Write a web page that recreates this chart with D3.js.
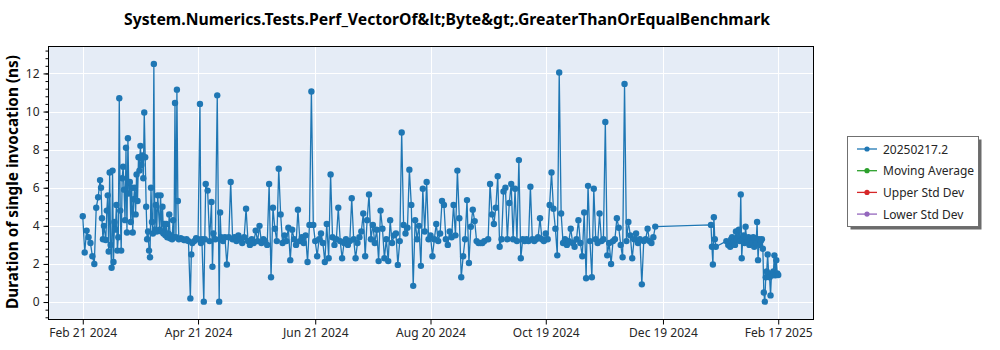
<!DOCTYPE html>
<html><head><meta charset="utf-8">
<script src="https://cdn.jsdelivr.net/npm/d3@7"></script>
<style>body{margin:0;background:#fff}svg{display:block}</style>
</head><body>
<svg id="chart" width="1000" height="350"></svg>
<script>
const chartTitle = "System.Numerics.Tests.Perf_VectorOf&lt;Byte&gt;.GreaterThanOrEqualBenchmark";
const yAxisLabel = "Duration of single invocation (ns)";
const legendLabels = ["20250217.2", "Moving Average", "Upper Std Dev", "Lower Std Dev"];

const dates = [
"2024-02-21","2024-02-22","2024-02-23","2024-02-24","2024-02-25","2024-02-26","2024-02-27","2024-02-28","2024-02-29",
"2024-03-01","2024-03-01 12","2024-03-02","2024-03-02 12","2024-03-03","2024-03-04","2024-03-04 12","2024-03-05","2024-03-05 12","2024-03-06","2024-03-06 12","2024-03-07","2024-03-07 12","2024-03-08","2024-03-08 12","2024-03-09","2024-03-09 12","2024-03-10","2024-03-10 12",
"2024-03-11","2024-03-11 12","2024-03-12","2024-03-12 12","2024-03-13","2024-03-13 12","2024-03-14","2024-03-14 12","2024-03-15","2024-03-15 12","2024-03-16","2024-03-16 12","2024-03-17","2024-03-17 12","2024-03-18","2024-03-18 12","2024-03-19","2024-03-19 12","2024-03-20","2024-03-20 12",
"2024-03-21","2024-03-21 12","2024-03-22","2024-03-22 12","2024-03-23","2024-03-23 12","2024-03-24","2024-03-24 12","2024-03-25","2024-03-25 12","2024-03-26","2024-03-26 12","2024-03-27","2024-03-27 12","2024-03-28","2024-03-28 12","2024-03-29","2024-03-29 12","2024-03-30","2024-03-30 12","2024-03-31",
"2024-04-01","2024-04-01 12","2024-04-02","2024-04-02 12","2024-04-03","2024-04-03 12","2024-04-04","2024-04-04 12","2024-04-05","2024-04-05 12","2024-04-06","2024-04-06 12","2024-04-07","2024-04-07 12","2024-04-08","2024-04-08 12","2024-04-09","2024-04-09 12","2024-04-10","2024-04-10 12",
"2024-04-11","2024-04-12","2024-04-13","2024-04-14","2024-04-15","2024-04-16","2024-04-17","2024-04-17 12","2024-04-18","2024-04-19","2024-04-20","2024-04-21","2024-04-22","2024-04-22 12","2024-04-23","2024-04-24","2024-04-24 12","2024-04-25","2024-04-26","2024-04-27","2024-04-28","2024-04-28 12","2024-04-29","2024-04-30",
"2024-05-01","2024-05-02","2024-05-02 12","2024-05-03","2024-05-04","2024-05-05","2024-05-06","2024-05-07","2024-05-08","2024-05-09","2024-05-10","2024-05-11","2024-05-12","2024-05-13","2024-05-14","2024-05-15","2024-05-16","2024-05-17","2024-05-18","2024-05-19","2024-05-20","2024-05-21","2024-05-22","2024-05-23","2024-05-24","2024-05-25","2024-05-26","2024-05-27","2024-05-28","2024-05-29","2024-05-30","2024-05-31",
"2024-06-01","2024-06-02","2024-06-03","2024-06-04","2024-06-05","2024-06-06","2024-06-07","2024-06-08","2024-06-09","2024-06-10","2024-06-11","2024-06-12","2024-06-13","2024-06-14","2024-06-15","2024-06-16","2024-06-17","2024-06-18","2024-06-19","2024-06-20","2024-06-21","2024-06-22","2024-06-23","2024-06-24","2024-06-25","2024-06-26","2024-06-27","2024-06-28","2024-06-29","2024-06-30",
"2024-07-01","2024-07-02","2024-07-03","2024-07-04","2024-07-05","2024-07-06","2024-07-07","2024-07-08","2024-07-09","2024-07-10","2024-07-11","2024-07-12","2024-07-13","2024-07-14","2024-07-15","2024-07-16","2024-07-17","2024-07-18","2024-07-19","2024-07-20","2024-07-21","2024-07-22","2024-07-23","2024-07-24","2024-07-25","2024-07-26","2024-07-27","2024-07-28","2024-07-29","2024-07-30","2024-07-31",
"2024-08-01","2024-08-02","2024-08-03","2024-08-04","2024-08-05","2024-08-06","2024-08-07","2024-08-08","2024-08-09","2024-08-10","2024-08-11","2024-08-12","2024-08-13","2024-08-14","2024-08-15","2024-08-16","2024-08-17","2024-08-18","2024-08-19","2024-08-20","2024-08-21","2024-08-22","2024-08-23","2024-08-24","2024-08-25","2024-08-26","2024-08-27","2024-08-28","2024-08-29","2024-08-30","2024-08-31",
"2024-09-01","2024-09-02","2024-09-03","2024-09-04","2024-09-05","2024-09-06","2024-09-07","2024-09-08","2024-09-09","2024-09-10","2024-09-11","2024-09-12","2024-09-13","2024-09-14","2024-09-15","2024-09-16","2024-09-17",
"2024-09-19","2024-09-20","2024-09-21","2024-09-22","2024-09-23","2024-09-24","2024-09-25","2024-09-26","2024-09-27","2024-09-28","2024-09-29","2024-09-30",
"2024-10-01","2024-10-02","2024-10-03","2024-10-04","2024-10-05","2024-10-06","2024-10-07","2024-10-08","2024-10-09","2024-10-10","2024-10-11","2024-10-12","2024-10-13","2024-10-14","2024-10-15","2024-10-16","2024-10-17","2024-10-18","2024-10-19","2024-10-20","2024-10-21","2024-10-22","2024-10-23","2024-10-24","2024-10-25","2024-10-26","2024-10-27","2024-10-28","2024-10-29","2024-10-30","2024-10-31",
"2024-11-01","2024-11-02","2024-11-03","2024-11-04","2024-11-05","2024-11-06","2024-11-07","2024-11-08","2024-11-09","2024-11-10","2024-11-11","2024-11-12","2024-11-13","2024-11-14","2024-11-15","2024-11-16","2024-11-17","2024-11-18","2024-11-19","2024-11-20","2024-11-21","2024-11-22","2024-11-23","2024-11-24","2024-11-25","2024-11-26","2024-11-27","2024-11-28","2024-11-29","2024-11-30",
"2024-12-01","2024-12-02","2024-12-03","2024-12-04","2024-12-05","2024-12-06","2024-12-07","2024-12-08","2024-12-09","2024-12-10","2024-12-11","2024-12-12","2024-12-13","2024-12-14","2024-12-15",
"2025-01-13","2025-01-13 12","2025-01-14","2025-01-14 12","2025-01-15","2025-01-15 12",
"2025-01-21","2025-01-22","2025-01-23","2025-01-23 12","2025-01-24","2025-01-24 12","2025-01-25","2025-01-25 12","2025-01-26","2025-01-26 12","2025-01-27","2025-01-27 12","2025-01-28","2025-01-28 12","2025-01-29","2025-01-29 12","2025-01-30","2025-01-30 12","2025-01-31","2025-01-31 12",
"2025-02-01","2025-02-01 12","2025-02-02","2025-02-02 12","2025-02-03","2025-02-03 12","2025-02-04","2025-02-04 12","2025-02-05","2025-02-05 12","2025-02-06","2025-02-06 12","2025-02-07","2025-02-07 12","2025-02-08","2025-02-08 12",
"2025-02-09","2025-02-09 12","2025-02-10","2025-02-10 12","2025-02-11","2025-02-11 12","2025-02-12","2025-02-12 12","2025-02-13","2025-02-13 12","2025-02-14","2025-02-14 12","2025-02-15","2025-02-15 12","2025-02-16","2025-02-16 12","2025-02-17"
];

const values = [
4.5,2.6,3.75,3.4,3.1,2.4,2.0,4.95,5.5,
6.4,6.0,4.4,3.3,4.0,3.26,4.8,5.6,2.65,6.8,3.0,1.8,6.9,2.1,4.2,3.8,5.1,2.7,3.4,
10.7,4.8,2.7,6.5,7.1,5.9,4.3,8.1,3.65,8.6,5.7,6.3,4.2,6.0,3.65,5.4,6.0,4.6,6.7,5.3,
7.6,6.9,8.2,7.2,7.7,6.5,9.95,7.6,5.0,3.3,3.7,2.7,2.35,6.0,4.2,3.6,12.5,3.8,5.1,3.7,5.6,
3.8,5.6,3.7,5.0,3.6,4.1,3.5,4.1,3.4,3.6,4.6,3.35,3.5,3.3,4.3,3.4,10.45,3.4,11.15,5.3,
3.3,3.35,3.3,3.25,3.3,3.2,0.19,2.5,3.1,3.2,3.35,3.3,10.4,3.1,3.3,0.02,3.3,6.2,5.85,3.2,5.25,1.85,3.6,3.3,
10.85,0.02,4.7,3.4,3.2,3.4,1.97,3.4,6.3,3.3,3.4,3.2,3.5,3.3,3.1,3.4,4.9,3.2,3.0,3.3,3.1,3.75,3.2,4.0,3.1,3.3,3.2,3.0,6.2,1.3,4.95,3.85,
3.2,7.0,4.6,3.1,3.5,3.2,3.9,2.2,3.8,3.3,3.0,4.85,3.2,3.4,3.1,3.5,2.1,4.05,11.05,4.05,3.2,2.4,3.3,3.6,3.1,2.1,4.1,2.3,6.7,3.4,
3.0,3.3,4.95,3.2,2.3,3.1,3.3,3.0,3.2,5.45,3.3,2.3,3.1,3.4,3.7,4.65,2.4,4.3,5.65,3.3,4.05,3.1,3.8,2.15,4.8,3.85,2.3,3.3,2.15,4.3,3.1,
3.5,3.6,1.95,3.2,8.9,4.05,3.6,3.9,6.95,5.1,0.85,4.3,3.3,4.0,1.9,5.95,3.7,6.3,3.3,3.5,2.4,3.3,4.1,3.2,3.6,5.3,5.1,3.3,3.0,3.7,3.4,
5.1,3.5,6.9,4.4,1.3,2.4,3.3,5.35,2.05,3.95,4.85,4.25,3.2,3.1,3.1,3.1,3.2,
3.3,6.2,4.6,4.1,4.95,6.6,2.9,3.3,5.8,6.0,3.3,5.2,
6.2,3.3,5.95,3.2,7.45,2.3,3.3,3.2,3.3,3.2,6.05,3.3,3.2,3.3,3.4,4.4,3.3,3.2,3.6,3.3,5.1,6.8,4.9,3.85,2.45,12.05,4.65,3.1,3.3,3.0,3.2,
3.85,3.1,2.9,3.3,4.3,3.1,2.4,4.7,1.25,6.1,3.2,1.3,5.95,3.3,3.1,4.65,3.2,3.3,9.45,2.45,3.1,2.0,3.2,3.3,4.4,3.9,3.0,2.35,11.45,3.2,
4.2,3.5,2.3,3.3,3.6,3.1,3.3,0.93,3.2,3.3,3.85,3.2,3.1,3.4,3.96,
4.05,2.9,1.97,4.45,3.3,2.9,
3.2,3.0,2.9,3.3,3.4,3.1,3.2,3.0,3.7,3.3,3.4,3.8,3.2,5.65,2.3,3.3,3.5,3.1,3.95,3.3,
3.2,3.4,3.0,3.3,3.2,3.1,3.4,2.9,3.3,3.1,4.2,2.2,3.3,3.0,3.2,3.3,
2.8,0.5,0.02,1.3,1.6,2.5,1.5,1.3,0.35,1.5,1.4,1.6,2.45,1.4,2.2,1.5,1.42
];

const xTickDates = ["2024-02-21","2024-04-21","2024-06-21","2024-08-20","2024-10-19","2024-12-19","2025-02-17"];
const xTickLabels = ["Feb 21 2024","Apr 21 2024","Jun 21 2024","Aug 20 2024","Oct 19 2024","Dec 19 2024","Feb 17 2025"];
const yTicks = [0, 2, 4, 6, 8, 10, 12];
const yTickLabels = ["0", "2", "4", "6", "8", "10", "12"];
const yDomain = [-0.89, 13.44];

// ---- styling / layout ----
const colors = ["#1f77b4", "#2ca02c", "#d62728", "#9467bd"];
const plot = {left: 48, right: 813, top: 46, bottom: 319};
const fontFamily = "'Segoe UI', 'Noto Sans', 'Open Sans', sans-serif";

const parseDay = d3.utcParse("%Y-%m-%d");
const parseHour = d3.utcParse("%Y-%m-%d %H");
const parse = s => (s.length > 10 ? parseHour(s) : parseDay(s));

const n = Math.min(dates.length, values.length);
const data = [];
for (let i = 0; i < n; i++) data.push({date: parse(dates[i]), value: values[i]});

const ext = d3.extent(data, d => d.date);
const pad = (ext[1] - ext[0]) * 0.05;
const x = d3.scaleUtc()
  .domain([new Date(+ext[0] - pad), new Date(+ext[1] + pad)])
  .range([plot.left, plot.right]);
const y = d3.scaleLinear().domain(yDomain).range([plot.bottom, plot.top]);

const svg = d3.select("#chart");

svg.append("rect").attr("width", 1000).attr("height", 350).attr("fill", "#ffffff");
svg.append("rect")
  .attr("x", plot.left).attr("y", plot.top)
  .attr("width", plot.right - plot.left).attr("height", plot.bottom - plot.top)
  .attr("fill", "#E5ECF6");

// grid
const tickDates = xTickDates.map(parseDay);
svg.append("g").selectAll("line").data(yTicks).join("line")
  .attr("x1", plot.left).attr("x2", plot.right)
  .attr("y1", d => Math.round(y(d)) + 0.5).attr("y2", d => Math.round(y(d)) + 0.5)
  .attr("stroke", "#ffffff").attr("stroke-width", 1);
svg.append("g").selectAll("line").data(tickDates).join("line")
  .attr("y1", plot.top).attr("y2", plot.bottom)
  .attr("x1", d => Math.round(x(d)) + 0.5).attr("x2", d => Math.round(x(d)) + 0.5)
  .attr("stroke", "#ffffff").attr("stroke-width", 1);

// data
svg.append("clipPath").attr("id", "clip").append("rect")
  .attr("x", plot.left).attr("y", plot.top)
  .attr("width", plot.right - plot.left).attr("height", plot.bottom - plot.top);
const dg = svg.append("g").attr("clip-path", "url(#clip)");
const line = d3.line().x(d => x(d.date)).y(d => y(d.value));
dg.append("path").datum(data)
  .attr("d", line).attr("fill", "none")
  .attr("stroke", colors[0]).attr("stroke-width", 1.3).attr("stroke-linejoin", "round");
dg.append("g").selectAll("circle").data(data).join("circle")
  .attr("cx", d => x(d.date)).attr("cy", d => y(d.value))
  .attr("r", 3.2).attr("fill", colors[0]);

// axes
const yAxis = d3.axisLeft(y).tickValues(yTicks)
  .tickFormat((d, i) => yTickLabels[i]).tickSize(5).tickPadding(4);
const yMinor = d3.axisLeft(y)
  .tickValues(d3.range(-20, 34).map(k => k * 0.4).filter(v => v >= yDomain[0] && v <= yDomain[1]))
  .tickFormat("").tickSize(3);
const xAxis = d3.axisBottom(x).tickValues(tickDates)
  .tickFormat((d, i) => xTickLabels[i]).tickSize(5).tickPadding(4);

const gyMinor = svg.append("g").attr("transform", `translate(${plot.left + 0.5},0)`).call(yMinor);
const gy = svg.append("g").attr("transform", `translate(${plot.left + 0.5},0)`).call(yAxis);
const gx = svg.append("g").attr("transform", `translate(0,${plot.bottom + 0.5})`).call(xAxis);
[gy, gx, gyMinor].forEach(g => {
  g.select(".domain").remove();
  g.selectAll(".tick line").attr("stroke", "#000");
  g.selectAll("text").attr("font-family", fontFamily).attr("font-size", 12).attr("fill", "#262626");
});

// frame
svg.append("rect")
  .attr("x", plot.left + 0.5).attr("y", plot.top + 0.5)
  .attr("width", plot.right - plot.left).attr("height", plot.bottom - plot.top)
  .attr("fill", "none").attr("stroke", "#000").attr("stroke-width", 1);

// title
svg.append("text")
  .attr("x", 447).attr("y", 25)
  .attr("text-anchor", "middle")
  .attr("font-family", fontFamily).attr("font-weight", "bold").attr("font-size", 16)
  .attr("textLength", 646).attr("lengthAdjust", "spacingAndGlyphs")
  .attr("fill", "#000")
  .text(chartTitle);

// y label
svg.append("text")
  .attr("transform", `translate(18,182) rotate(-90)`)
  .attr("text-anchor", "middle")
  .attr("font-family", fontFamily).attr("font-weight", "bold").attr("font-size", 16)
  .attr("textLength", 254).attr("lengthAdjust", "spacingAndGlyphs")
  .attr("fill", "#000")
  .text(yAxisLabel);

// legend
const lg = svg.append("g");
const L = {x: 847.5, y: 136.5, w: 131, h: 90};
lg.append("rect").attr("x", L.x + 3).attr("y", L.y + 3).attr("width", L.w).attr("height", L.h).attr("fill", "#6b6b6b");
lg.append("rect").attr("x", L.x).attr("y", L.y).attr("width", L.w).attr("height", L.h)
  .attr("fill", "#ffffff").attr("stroke", "#707070").attr("stroke-width", 1);
const items = lg.selectAll("g.item").data(legendLabels).join("g")
  .attr("class", "item")
  .attr("transform", (d, i) => `translate(0,${149 + i * 21.7})`);
items.append("line").attr("x1", 857).attr("x2", 877).attr("y1", 0).attr("y2", 0)
  .attr("stroke", (d, i) => colors[i]).attr("stroke-width", 1.3);
items.append("circle").attr("cx", 867).attr("cy", 0).attr("r", 2.6).attr("fill", (d, i) => colors[i]);
items.append("text").attr("x", 883).attr("y", 4.5)
  .attr("font-family", fontFamily).attr("font-size", 12).attr("fill", "#262626")
  .text(d => d);
</script>
</body></html>
